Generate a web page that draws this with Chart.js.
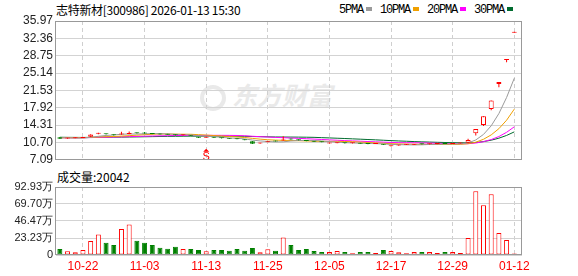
<!DOCTYPE html>
<html>
<head>
<meta charset="utf-8">
<script src="https://cdn.jsdelivr.net/npm/chart.js@4.4.1/dist/chart.umd.min.js"></script>
<style>
	body { margin: 0; background: #fff; }
	.wrap { position: relative; width: 578px; height: 276px; overflow: hidden; font-family: 'Noto Sans CJK SC', sans-serif; }
	.wrap canvas { position: absolute; left: 0; z-index: 2; }
	#kline { top: 0; }
	#volume { top: 170px; }
	.title { position: absolute; left: 56px; top: 1px; font-size: 12px; line-height: 18px; color: #000; white-space: nowrap; letter-spacing: -0.3px; }
	.legend { position: absolute; left: 339px; top: 1px; line-height: 18px; white-space: nowrap; font-family: 'Liberation Mono', monospace; font-size: 12px; letter-spacing: -1.2px; color: #000; }
	.legend span { display: inline-block; }
	.legend i { display: inline-block; width: 6px; height: 4px; margin: 0 8px 1px 3px; vertical-align: middle; }
	.vol-title { position: absolute; left: 57px; top: 168px; font-size: 12px; line-height: 18px; color: #000; white-space: nowrap; }
	.watermark { position: absolute; left: 200px; top: 76px; z-index: 1; color: #e9e9e9; font-size: 25px; font-weight: bold; font-style: italic; line-height: 36px; white-space: nowrap; }
	.watermark b { display: inline-block; width: 26px; height: 26px; border: 4px solid #e9e9e9; border-radius: 50%; margin-right: 6px; vertical-align: -6px; box-sizing: border-box; }
</style>
</head>
<body>
<div class="wrap">
	<div class="watermark"><b></b>东方财富</div>
	<div class="title">志特新材[300986] 2026-01-13 15:30</div>
	<div class="legend" id="legend"></div>
	<div class="vol-title">成交量:20042</div>
	<canvas id="kline" width="578" height="170"></canvas>
	<canvas id="volume" width="578" height="106"></canvas>
</div>
<script>
// ***** DATA *****
// trading days 2025-10-17 .. 2026-01-12
const dates = [
	'10-17', '10-20', '10-21', '10-22', '10-23', '10-24', '10-27', '10-28', '10-29', '10-30',
	'10-31', '11-03', '11-04', '11-05', '11-06', '11-07', '11-10', '11-11', '11-12', '11-13',
	'11-14', '11-17', '11-18', '11-19', '11-20', '11-21', '11-24', '11-25', '11-26', '11-27',
	'11-28', '12-01', '12-02', '12-03', '12-04', '12-05', '12-08', '12-09', '12-10', '12-11',
	'12-12', '12-15', '12-16', '12-17', '12-18', '12-19', '12-22', '12-23', '12-24', '12-25',
	'12-26', '12-29', '12-30', '12-31', '01-05', '01-06', '01-07', '01-08', '01-09', '01-12',
]

const opens = [
	11.78, 11.50, 11.58, 11.64, 11.88, 12.50, 12.50, 12.35, 12.37, 12.48,
	12.70, 12.66, 12.55, 12.45, 12.40, 12.35, 12.18, 12.22, 11.86, 11.70,
	11.78, 11.66, 11.56, 11.45, 11.30, 10.97, 10.50, 10.75, 11.00, 11.10,
	11.45, 11.30, 11.15, 10.95, 10.85, 10.50, 10.55, 10.60, 10.52, 10.52,
	10.45, 10.40, 10.30, 9.92, 10.05, 10.22, 10.22, 10.38, 10.30, 10.36,
	10.48, 10.40, 10.50, 10.62, 12.64, 14.31, 17.66, 22.84, 27.85, 33.54,
]
const highs = [
	11.82, 11.62, 11.68, 11.80, 12.40, 12.72, 12.56, 12.40, 12.92, 13.00,
	12.75, 12.85, 12.60, 12.50, 12.45, 12.40, 12.30, 12.26, 11.90, 11.82,
	11.82, 11.70, 11.60, 11.50, 11.34, 11.00, 10.66, 10.88, 11.04, 12.00,
	11.50, 11.34, 11.18, 10.98, 10.88, 10.62, 10.66, 10.64, 10.55, 10.55,
	10.48, 10.43, 10.33, 10.05, 10.22, 10.25, 10.33, 10.40, 10.39, 10.39,
	10.50, 10.50, 10.53, 11.45, 13.48, 16.17, 19.41, 23.29, 27.95, 33.54,
]
const lows = [
	11.42, 11.48, 11.55, 11.60, 11.85, 12.40, 12.38, 12.15, 12.30, 12.40,
	12.55, 12.52, 12.40, 12.35, 12.28, 12.15, 12.15, 12.06, 11.65, 11.66,
	11.62, 11.52, 11.42, 11.34, 11.14, 10.40, 10.45, 10.72, 10.88, 11.05,
	11.26, 11.12, 10.96, 10.80, 10.72, 10.46, 10.52, 10.49, 10.49, 10.42,
	10.35, 10.37, 10.17, 9.88, 10.02, 10.19, 10.19, 10.29, 10.27, 10.33,
	10.37, 10.37, 10.47, 10.55, 12.17, 14.10, 17.40, 22.18, 27.37, 33.54,
]
const closes = [
	11.46, 11.58, 11.64, 11.76, 12.35, 12.58, 12.42, 12.20, 12.50, 12.58,
	12.62, 12.58, 12.45, 12.38, 12.32, 12.20, 12.25, 12.10, 11.70, 11.78,
	11.66, 11.55, 11.45, 11.38, 11.18, 10.45, 10.63, 10.85, 10.92, 11.30,
	11.30, 11.15, 11.00, 10.84, 10.75, 10.58, 10.62, 10.52, 10.52, 10.45,
	10.38, 10.40, 10.20, 10.02, 10.20, 10.22, 10.30, 10.32, 10.36, 10.36,
	10.40, 10.47, 10.50, 11.23, 13.48, 16.17, 19.41, 23.29, 27.95, 33.54,
]

// moving averages
const ma5 = [
	11.70, 11.66, 11.62, 11.62, 11.76, 11.98, 12.15, 12.26, 12.41, 12.46,
	12.46, 12.50, 12.55, 12.52, 12.47, 12.39, 12.32, 12.25, 12.11, 12.01,
	11.90, 11.76, 11.63, 11.56, 11.44, 11.20, 11.02, 10.90, 10.81, 10.83,
	11.00, 11.10, 11.13, 11.12, 11.01, 10.86, 10.76, 10.66, 10.60, 10.54,
	10.50, 10.45, 10.39, 10.29, 10.24, 10.21, 10.19, 10.21, 10.28, 10.31,
	10.35, 10.38, 10.42, 10.59, 11.22, 12.37, 14.16, 16.72, 20.06, 24.07,
]
const ma10 = [
	11.69, 11.68, 11.67, 11.68, 11.74, 11.83, 11.90, 11.94, 12.02, 12.11,
	12.22, 12.32, 12.40, 12.47, 12.46, 12.43, 12.41, 12.40, 12.32, 12.24,
	12.14, 12.04, 11.94, 11.84, 11.73, 11.55, 11.39, 11.26, 11.19, 11.14,
	11.10, 11.06, 11.02, 10.96, 10.92, 10.93, 10.93, 10.90, 10.86, 10.77,
	10.68, 10.61, 10.53, 10.44, 10.39, 10.35, 10.32, 10.30, 10.29, 10.28,
	10.28, 10.29, 10.32, 10.44, 10.76, 11.36, 12.27, 13.57, 15.33, 17.64,
]
const ma20 = [
	11.67, 11.66, 11.66, 11.67, 11.71, 11.75, 11.79, 11.82, 11.86, 11.91,
	11.96, 12.00, 12.04, 12.07, 12.10, 12.13, 12.15, 12.17, 12.17, 12.17,
	12.18, 12.18, 12.17, 12.15, 12.09, 11.99, 11.90, 11.83, 11.75, 11.69,
	11.62, 11.55, 11.48, 11.40, 11.32, 11.24, 11.16, 11.08, 11.02, 10.96,
	10.89, 10.83, 10.77, 10.70, 10.65, 10.64, 10.63, 10.60, 10.57, 10.52,
	10.48, 10.45, 10.42, 10.44, 10.58, 10.86, 11.30, 11.93, 12.81, 13.96,
]
const ma30 = [
	11.78, 11.76, 11.75, 11.74, 11.76, 11.78, 11.79, 11.80, 11.81, 11.83,
	11.85, 11.88, 11.91, 11.94, 11.96, 11.98, 12.00, 12.01, 12.01, 12.02,
	12.02, 12.01, 12.01, 11.99, 11.98, 11.93, 11.90, 11.87, 11.84, 11.83,
	11.82, 11.81, 11.79, 11.76, 11.70, 11.64, 11.58, 11.52, 11.45, 11.38,
	11.31, 11.24, 11.16, 11.08, 11.01, 10.95, 10.88, 10.82, 10.78, 10.73,
	10.69, 10.65, 10.62, 10.61, 10.69, 10.88, 11.17, 11.59, 12.16, 12.90,
]

// volume in 万
const volumes = [
	8.2, 5.0, 3.6, 6.8, 19.0, 28.1, 16.8, 13.6, 35.4, 41.7,
	19.5, 16.8, 13.6, 10.0, 8.6, 11.3, 8.2, 8.2, 6.8, 5.0,
	6.8, 6.8, 5.9, 8.2, 5.9, 9.5, 3.6, 7.7, 5.9, 24.0,
	13.6, 6.8, 8.2, 5.4, 4.1, 4.1, 5.4, 4.1, 2.3, 4.1,
	4.1, 2.7, 6.8, 5.4, 3.6, 2.3, 4.1, 4.1, 4.1, 2.7,
	4.1, 4.1, 2.7, 23.1, 87.0, 68.0, 83.0, 29.9, 20.4, 2.0042,
]

const priceTicks = [7.09, 10.70, 14.31, 17.92, 21.53, 25.14, 28.75, 32.36, 35.97]
const volumeTicks = [0, 23.23, 46.47, 69.70, 92.93]
const dateTickIdx = [3, 11, 19, 27, 35, 43, 51, 59]
const maNames = ['5PMA', '10PMA', '20PMA', '30PMA']
const signalIdx = 19
const signalText = 'S'

// ***** STYLE *****
const RED = '#ff0000'
const GREEN = '#008000'
const maColors = ['#9a9a9a', '#f0a000', '#ff00ff', '#006b2e']
const tickFont = { family: 'Liberation Sans, Arial, sans-serif', size: 12 }

// up = red hollow, down = green filled, flat = filled by change vs previous close
function isUp(i) {
	if (closes[i] !== opens[i]) return closes[i] > opens[i]
	return i === 0 || closes[i] >= closes[i - 1]
}
function isHollow(i) {
	return closes[i] > opens[i]
}
const fillColors = closes.map((c, i) => (isHollow(i) ? '#ffffff' : isUp(i) ? RED : GREEN))
const lineColors = closes.map((c, i) => (isUp(i) ? RED : GREEN))

// ***** LEGEND *****
let legendHtml = ''
maNames.forEach((name, k) => {
	legendHtml += `<span>${name}<i style="background:${maColors[k]}"></i></span>`
})
document.getElementById('legend').innerHTML = legendHtml

// ***** PLUGINS *****
const framePlugin = {
	id: 'frame',
	afterDraw(chart) {
		const { ctx, chartArea } = chart
		ctx.save()
		ctx.strokeStyle = '#999999'
		ctx.lineWidth = 1
		ctx.strokeRect(
			Math.round(chartArea.left) - 0.5,
			Math.round(chartArea.top) + 0.5,
			Math.round(chartArea.right - chartArea.left),
			Math.round(chartArea.bottom - chartArea.top) - 1,
		)
		ctx.restore()
	},
}

const signalPlugin = {
	id: 'signal',
	afterDatasetsDraw(chart) {
		const ctx = chart.ctx
		const x = chart.scales.x.getPixelForValue(signalIdx)
		const y = chart.scales.y.getPixelForValue(lows[signalIdx]) + 11
		ctx.save()
		ctx.fillStyle = RED
		ctx.beginPath()
		ctx.moveTo(x, y)
		ctx.lineTo(x - 3, y + 3)
		ctx.lineTo(x + 3, y + 3)
		ctx.closePath()
		ctx.fill()
		ctx.font = '11px Liberation Sans, Arial, sans-serif'
		ctx.textAlign = 'center'
		ctx.textBaseline = 'top'
		ctx.fillText(signalText, x, y + 3)
		ctx.restore()
	},
}

// shared x axis (index of the trading day)
function xAxis(showLabels) {
	return {
		type: 'linear',
		min: -0.5,
		max: 60,
		offset: false,
		afterBuildTicks: (axis) => {
			axis.ticks = dateTickIdx.map((v) => ({ value: v }))
		},
		afterFit: (axis) => {
			axis.height = showLabels ? 21 : 0
		},
		grid: { offset: false, color: '#cfcfcf', drawTicks: false },
		border: { display: false, dash: [4, 3] },
		ticks: {
			display: showLabels,
			color: RED,
			font: tickFont,
			padding: 4,
			maxRotation: 0,
			autoSkip: false,
			callback: (v) => dates[v],
		},
	}
}

// ***** PRICE CHART *****
const maSets = [ma5, ma10, ma20, ma30].map((arr, k) => ({
	type: 'line',
	label: maNames[k],
	data: arr.map((v, i) => ({ x: i, y: v })),
	borderColor: maColors[k],
	borderWidth: 1,
	pointRadius: 0,
	tension: 0,
	order: 2,
}))

new Chart(document.getElementById('kline'), {
	type: 'bar',
	data: {
		datasets: [
			{
				label: 'body',
				data: opens.map((o, i) => ({ x: i, y: [o, closes[i]] })),
				backgroundColor: fillColors,
				borderColor: lineColors,
				borderWidth: 1,
				borderSkipped: false,
				barThickness: 5,
				minBarLength: 1,
				inflateAmount: 0,
				grouped: false,
				order: 0,
			},
			{
				label: 'wick',
				data: lows.map((l, i) => ({ x: i, y: [l, highs[i]] })),
				backgroundColor: lineColors,
				borderWidth: 0,
				barThickness: 1,
				minBarLength: 1,
				inflateAmount: 0,
				grouped: false,
				order: 1,
			},
			...maSets,
		],
	},
	options: {
		responsive: false,
		animation: false,
		layout: { padding: { left: 0, right: 56, top: 21, bottom: 5 } },
		plugins: { legend: { display: false }, tooltip: { enabled: false } },
		scales: {
			x: xAxis(false),
			y: {
				min: 7.09,
				max: 35.97,
				afterBuildTicks: (axis) => {
					axis.ticks = priceTicks.map((v) => ({ value: v }))
				},
				afterFit: (axis) => {
					axis.width = 56
				},
				grid: { color: '#d3d3d3', drawTicks: false },
				border: { display: false },
				ticks: {
					color: '#222',
					font: tickFont,
					padding: 3,
					callback: (v) => v.toFixed(2),
				},
			},
		},
	},
	plugins: [framePlugin, signalPlugin],
})

// ***** VOLUME CHART *****
new Chart(document.getElementById('volume'), {
	type: 'bar',
	data: {
		datasets: [
			{
				label: '成交量',
				data: volumes.map((v, i) => ({ x: i, y: v })),
				backgroundColor: fillColors,
				borderColor: lineColors,
				borderWidth: 1,
				borderSkipped: false,
				barThickness: 5,
				inflateAmount: 0,
				grouped: false,
			},
		],
	},
	options: {
		responsive: false,
		animation: false,
		layout: { padding: { left: 0, right: 56, top: 17, bottom: 0 } },
		plugins: { legend: { display: false }, tooltip: { enabled: false } },
		scales: {
			x: xAxis(true),
			y: {
				min: 0,
				max: 92.93,
				afterBuildTicks: (axis) => {
					axis.ticks = volumeTicks.map((v) => ({ value: v }))
				},
				afterFit: (axis) => {
					axis.width = 56
				},
				grid: { color: '#d3d3d3', drawTicks: false },
				border: { display: false },
				ticks: {
					color: '#222',
					font: { family: 'Liberation Sans, Arial, sans-serif', size: 11 },
					padding: 3,
					callback: (v) => (v === 0 ? '0' : v.toFixed(2) + '万'),
				},
			},
		},
	},
	plugins: [framePlugin],
})
</script>
</body>
</html>
